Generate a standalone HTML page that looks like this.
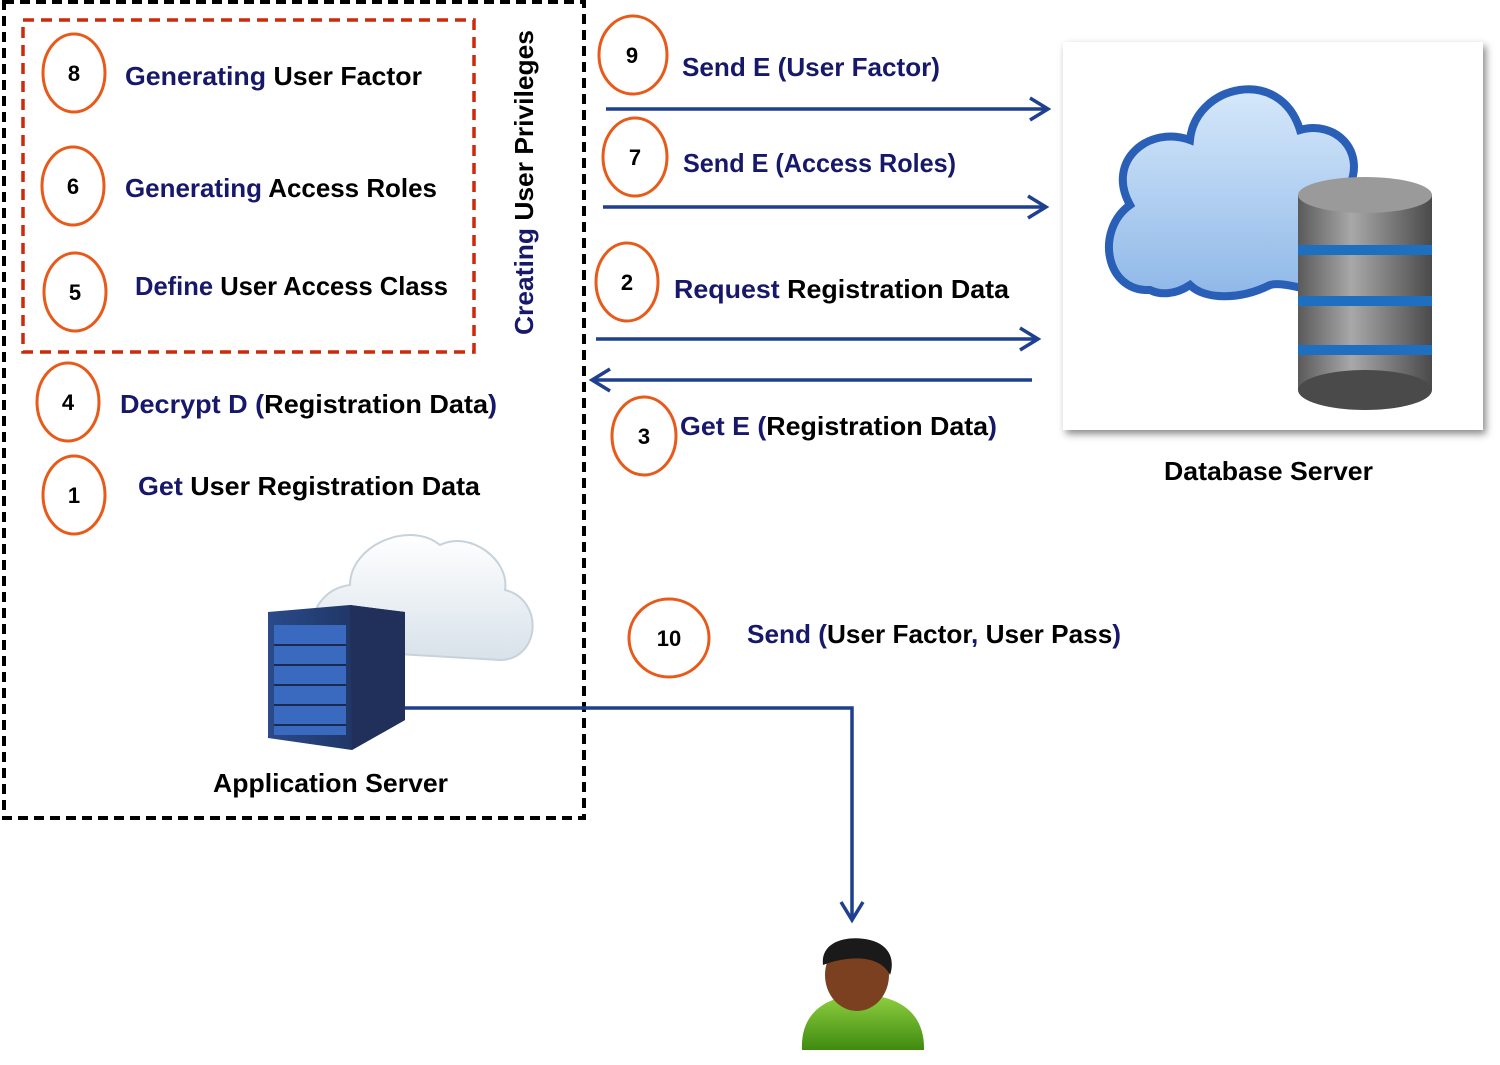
<!DOCTYPE html>
<html><head><meta charset="utf-8"><style>
html,body{margin:0;padding:0;background:#fff;}
svg{display:block;}
text{font-family:"Liberation Sans",Arial,sans-serif;font-weight:bold;}
</style></head><body>
<svg width="1500" height="1065" viewBox="0 0 1500 1065" xmlns="http://www.w3.org/2000/svg">
<defs>
<linearGradient id="cl" x1="0" y1="0" x2="0" y2="1"><stop offset="0" stop-color="#d6e8fa"/><stop offset="1" stop-color="#8fb8e8"/></linearGradient>
<linearGradient id="cy" x1="0" y1="0" x2="1" y2="0"><stop offset="0" stop-color="#5a5a5a"/><stop offset="0.4" stop-color="#a8a8a8"/><stop offset="1" stop-color="#4a4a4a"/></linearGradient>
<linearGradient id="wc" x1="0" y1="0" x2="0" y2="1"><stop offset="0" stop-color="#ffffff"/><stop offset="1" stop-color="#d8e2ea"/></linearGradient>
<linearGradient id="sv" x1="0" y1="0" x2="1" y2="0"><stop offset="0" stop-color="#2a4a8a"/><stop offset="1" stop-color="#1a2a50"/></linearGradient>
<linearGradient id="gr" x1="0" y1="0" x2="0" y2="1"><stop offset="0" stop-color="#8fd040"/><stop offset="1" stop-color="#3f8a10"/></linearGradient>
<filter id="sh" x="-10%" y="-10%" width="120%" height="120%"><feGaussianBlur stdDeviation="4"/></filter>
<marker id="ah" markerWidth="24" markerHeight="26" refX="20" refY="13" orient="auto" markerUnits="userSpaceOnUse"><path d="M2,2 L20,13 L2,24" fill="none" stroke="#1f3f8f" stroke-width="3.5"/></marker>
</defs>

<rect x="4" y="2" width="580" height="816" fill="none" stroke="#000" stroke-width="4" stroke-dasharray="10,6"/>
<rect x="23" y="20" width="451" height="332" fill="none" stroke="#cc2a0a" stroke-width="3.5" stroke-dasharray="11,7"/>

<g fill="none" stroke="#e85a1a" stroke-width="3">
<ellipse cx="74" cy="73" rx="31" ry="39"/>
<ellipse cx="73" cy="186" rx="31" ry="39"/>
<ellipse cx="75" cy="292" rx="31" ry="39"/>
<ellipse cx="68" cy="402" rx="31" ry="39"/>
<ellipse cx="74" cy="495" rx="31" ry="39"/>
<ellipse cx="633" cy="55" rx="34" ry="39"/>
<ellipse cx="635" cy="157" rx="32" ry="39"/>
<ellipse cx="627" cy="282" rx="31" ry="39"/>
<ellipse cx="644" cy="436" rx="32" ry="39"/>
<ellipse cx="669" cy="638" rx="40" ry="39"/>
</g>
<g font-size="22" fill="#000" text-anchor="middle">
<text x="74" y="81">8</text><text x="73" y="194">6</text><text x="75" y="300">5</text>
<text x="68" y="410">4</text><text x="74" y="503">1</text><text x="632" y="63">9</text>
<text x="635" y="165">7</text><text x="627" y="290">2</text><text x="644" y="444">3</text>
<text x="669" y="646">10</text>
</g>

<g font-size="26" fill="#000">
<text x="125" y="85" textLength="297" lengthAdjust="spacingAndGlyphs"><tspan fill="#17186a">Generating</tspan> User Factor</text>
<text x="125" y="197" textLength="312" lengthAdjust="spacingAndGlyphs"><tspan fill="#17186a">Generating</tspan> Access Roles</text>
<text x="135" y="295" textLength="313" lengthAdjust="spacingAndGlyphs"><tspan fill="#17186a">Define</tspan> User Access Class</text>
<text x="120" y="413" textLength="377" lengthAdjust="spacingAndGlyphs"><tspan fill="#17186a">Decrypt D (</tspan>Registration Data<tspan fill="#17186a">)</tspan></text>
<text x="138" y="495" textLength="342" lengthAdjust="spacingAndGlyphs"><tspan fill="#17186a">Get</tspan> User Registration Data</text>
<text x="682" y="76" textLength="258" lengthAdjust="spacingAndGlyphs" fill="#17186a">Send E (User Factor)</text>
<text x="683" y="172" textLength="273" lengthAdjust="spacingAndGlyphs" fill="#17186a">Send E (Access Roles)</text>
<text x="674" y="298" textLength="335" lengthAdjust="spacingAndGlyphs"><tspan fill="#17186a">Request</tspan> Registration Data</text>
<text x="680" y="435" textLength="317" lengthAdjust="spacingAndGlyphs"><tspan fill="#17186a">Get E (</tspan>Registration Data<tspan fill="#17186a">)</tspan></text>
<text x="747" y="643" textLength="374" lengthAdjust="spacingAndGlyphs"><tspan fill="#17186a">Send (</tspan>User Factor<tspan fill="#17186a">,</tspan> User Pass<tspan fill="#17186a">)</tspan></text>
<text x="1164" y="480" textLength="209" lengthAdjust="spacingAndGlyphs">Database Server</text>
<text x="213" y="792" textLength="235" lengthAdjust="spacingAndGlyphs">Application Server</text>
<text transform="translate(533,335) rotate(-90)" textLength="305" lengthAdjust="spacingAndGlyphs"><tspan fill="#17186a">Creating</tspan> User Privileges</text>
</g>

<g stroke="#1f3f8f" stroke-width="3.5" fill="none">
<line x1="606" y1="109" x2="1048" y2="109" marker-end="url(#ah)"/>
<line x1="603" y1="207" x2="1046" y2="207" marker-end="url(#ah)"/>
<line x1="596" y1="339" x2="1038" y2="339" marker-end="url(#ah)"/>
<line x1="1032" y1="380" x2="592" y2="380" marker-end="url(#ah)"/>
<polyline points="400,708 852,708 852,920" marker-end="url(#ah)"/>
</g>

<!-- DB image -->
<rect x="1066" y="46" width="420" height="388" fill="#888" filter="url(#sh)"/>
<rect x="1063" y="42" width="420" height="388" fill="#fff"/>
<path d="M1150,290 C1105,292 1095,230 1130,205 C1105,160 1150,125 1190,140 C1195,85 1280,65 1300,130 C1335,120 1365,150 1350,185 C1385,195 1385,275 1345,285 C1320,300 1290,280 1270,285 C1240,300 1205,300 1190,285 C1175,295 1160,295 1150,290 Z" fill="url(#cl)" stroke="#2a5fb8" stroke-width="8"/>
<g>
<rect x="1298" y="195" width="134" height="195" fill="url(#cy)"/>
<ellipse cx="1365" cy="390" rx="67" ry="20" fill="#4a4a4a"/>
<rect x="1298" y="245" width="134" height="10" fill="#1f6fc0"/>
<rect x="1298" y="296" width="134" height="10" fill="#1f6fc0"/>
<rect x="1298" y="345" width="134" height="10" fill="#1f6fc0"/>
<ellipse cx="1365" cy="195" rx="67" ry="18" fill="#9a9a9a"/>
</g>

<!-- app server -->
<path d="M330,650 C300,640 310,590 350,585 C350,545 410,520 440,545 C470,530 510,560 505,590 C545,600 540,660 500,660 Z" fill="url(#wc)" stroke="#c8d2da" stroke-width="2"/>
<polygon points="268,612 350,605 405,612 405,720 352,750 268,738" fill="url(#sv)"/>
<polygon points="350,605 405,612 405,720 352,750" fill="#20305a"/>
<rect x="274" y="625" width="72" height="110" fill="#3a6ac0"/>
<g stroke="#1a2a50" stroke-width="2"><line x1="274" y1="645" x2="346" y2="645"/><line x1="274" y1="665" x2="346" y2="665"/><line x1="274" y1="685" x2="346" y2="685"/><line x1="274" y1="705" x2="346" y2="705"/><line x1="274" y1="725" x2="346" y2="725"/></g>

<!-- person -->
<path d="M802,1050 C800,1010 830,995 862,995 C895,995 925,1010 924,1050 Z" fill="url(#gr)"/>
<ellipse cx="857" cy="975" rx="32" ry="36" fill="#7a4020"/>
<path d="M823,965 C820,940 850,935 870,940 C890,945 895,960 890,975 C880,955 850,955 823,965 Z" fill="#1a1a1a"/>
</svg>
</body></html>
